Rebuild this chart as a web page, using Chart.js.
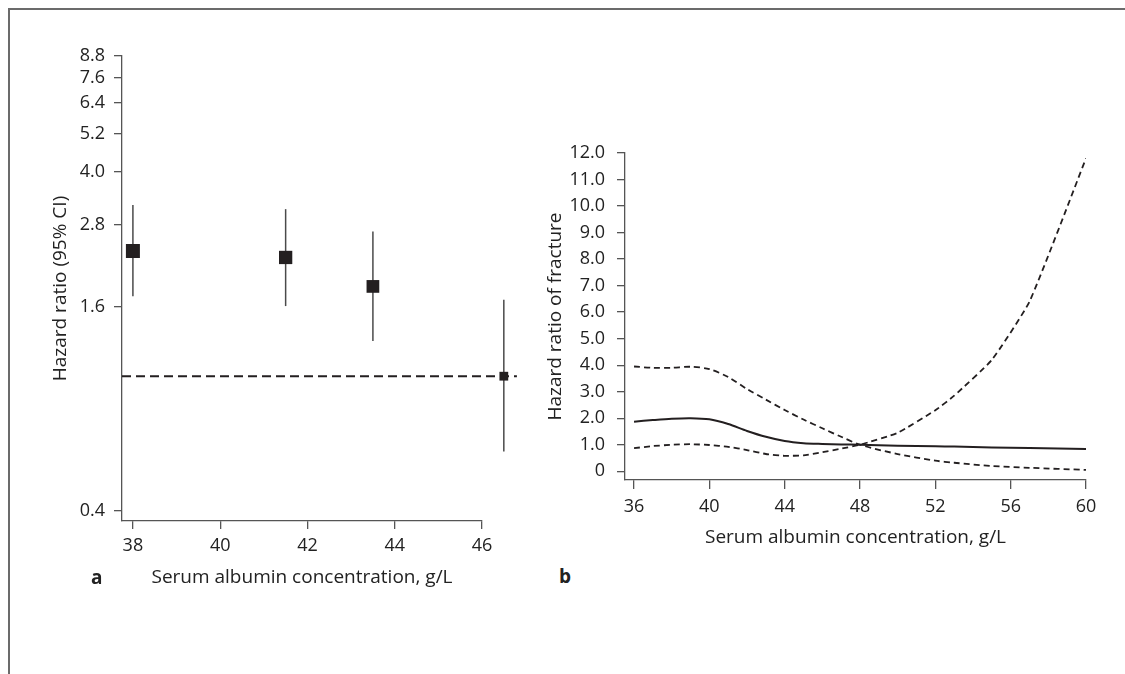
<!DOCTYPE html>
<html>
<head>
<meta charset="utf-8">
<script src="https://cdn.jsdelivr.net/npm/chart.js@4.4.1/dist/chart.umd.min.js"></script>
<style>
  body { margin: 0; background: #fff; width: 1125px; height: 674px; position: relative; overflow: hidden; font-family: "Open Sans", sans-serif; }
  .frame { position: absolute; left: 8px; top: 8px; right: 0; bottom: 0; border-top: 2px solid #6b6b6b; border-left: 2px solid #6b6b6b; }
  .panel { position: absolute; }
  .tag { position: absolute; font-weight: bold; font-size: 19px; color: #222; line-height: 20px; }
</style>
</head>
<body>
<div class="frame"></div>
<div class="panel" style="left:0;top:0;width:530px;height:600px"><canvas id="chartA"></canvas></div>
<div class="panel" style="left:530px;top:0;width:595px;height:560px"><canvas id="chartB"></canvas></div>
<div class="tag" style="left:91px;top:567px">a</div>
<div class="tag" style="left:559px;top:566px">b</div>
<script>
// panel a: categories of serum albumin (g/L) and hazard ratios
const albuminGroups = [38, 41.5, 43.5, 46.5];
const hrGroups = [2.34, 2.24, 1.84, 1.0];
const hrGroupsLow = [1.72, 1.61, 1.27, 0.60];
const hrGroupsHigh = [3.20, 3.11, 2.67, 1.68];
const refLine = 1;
const refLineFrom = 37.75;
const refLineTo = 46.8;
const ticksAx = [38, 40, 42, 44, 46];
const ticksAy = [0.4, 1.6, 2.8, 4.0, 5.2, 6.4, 7.6, 8.8];

// panel b: continuous albumin vs hazard ratio of fracture
const albumin = [36, 37, 38, 39, 40, 41, 42, 43, 44, 45, 46, 47, 48, 50, 52, 53, 55, 57, 60];
const hrFracture = [1.87, 1.93, 1.98, 2.0, 1.96, 1.78, 1.52, 1.3, 1.14, 1.06, 1.03, 1.01, 1.0, 0.96, 0.94, 0.93, 0.9, 0.88, 0.84];
const ciBandA = [3.95, 3.9, 3.9, 3.94, 3.85, 3.55, 3.1, 2.7, 2.31, 1.95, 1.62, 1.3, 1.0, 0.65, 0.4, 0.32, 0.2, 0.13, 0.05];
const ciBandB = [0.87, 0.95, 1.0, 1.02, 0.99, 0.92, 0.8, 0.65, 0.58, 0.6, 0.72, 0.85, 1.0, 1.45, 2.3, 2.85, 4.2, 6.4, 11.8];
const ticksBx = [36, 40, 44, 48, 52, 56, 60];
const ticksBy = [0, 1, 2, 3, 4, 5, 6, 7, 8, 9, 10, 11, 12];

const ink = '#231f20';
const axisCol = '#555';
const textCol = '#222';
const font = { family: 'Open Sans', size: 18 };
const titleFont = { family: 'Open Sans', size: 19 };

const pts = (xs, ys) => xs.map((x, i) => ({ x: x, y: ys[i] }));

// error bars as little two-point lines
const ciSets = albuminGroups.map((x, i) => ({
    data: [{ x: x, y: hrGroupsLow[i] }, { x: x, y: hrGroupsHigh[i] }],
    showLine: true,
    borderColor: '#4a4a4a',
    borderWidth: 1.5,
    pointRadius: 0,
    clip: false
}));

// the last group sits right of the axis end, so let the marks draw a bit past the area
const overhang = {
    id: 'overhang',
    beforeDatasetsDraw(chart) {
        chart._rightEdge = chart.chartArea.right;
        chart.chartArea.right += 45;
    },
    afterDatasetsDraw(chart) {
        chart.chartArea.right = chart._rightEdge;
    }
};

new Chart(document.getElementById('chartA'), {
    type: 'scatter',
    data: {
        datasets: [
            {
                data: pts(albuminGroups, hrGroups),
                pointStyle: 'rect',
                pointRadius: [9.9, 9.4, 9.0, 6.2],
                backgroundColor: ink,
                borderWidth: 0,
                clip: false
            },
            ...ciSets,
            {
                data: [{ x: refLineFrom, y: refLine }, { x: refLineTo, y: refLine }],
                showLine: true,
                borderColor: ink,
                borderWidth: 2,
                borderDash: [9, 5],
                pointRadius: 0,
                clip: false
            }
        ]
    },
    options: {
        responsive: true,
        maintainAspectRatio: false,
        animation: false,
        layout: { padding: { top: 56, right: 48, left: 0, bottom: 0 } },
        plugins: { legend: { display: false }, tooltip: { enabled: false } },
        scales: {
            x: {
                type: 'linear',
                min: 37.75,
                max: 46,
                afterBuildTicks: s => { s.ticks = ticksAx.map(v => ({ value: v })); },
                afterFit: s => { s.height = 79; },
                border: { display: true, color: axisCol, width: 1.3 },
                grid: { drawOnChartArea: false, color: axisCol, tickLength: 8, lineWidth: 1.3 },
                ticks: { color: textCol, font: font, padding: 6, maxRotation: 0 },
                title: { display: true, text: 'Serum albumin concentration, g/L', color: textCol, font: titleFont, padding: { top: 0, bottom: 11 } }
            },
            y: {
                type: 'logarithmic',
                min: 0.374,
                max: 8.8,
                afterBuildTicks: s => { s.ticks = ticksAy.map(v => ({ value: v })); },
                afterFit: s => { s.width = 122; },
                border: { display: true, color: axisCol, width: 1.3 },
                grid: { drawOnChartArea: false, color: axisCol, tickLength: 8, lineWidth: 1.3 },
                ticks: { color: textCol, font: font, padding: 9, callback: v => Number(v).toFixed(1) },
                title: { display: true, text: 'Hazard ratio (95% CI)', color: textCol, font: titleFont, padding: { top: 49, bottom: 0 } }
            }
        }
    },
    plugins: [overhang]
});

new Chart(document.getElementById('chartB'), {
    type: 'scatter',
    data: {
        datasets: [
            {
                data: pts(albumin, hrFracture),
                showLine: true,
                borderColor: ink,
                borderWidth: 2,
                pointRadius: 0,
                tension: 0.3
            },
            {
                data: pts(albumin, ciBandA),
                showLine: true,
                borderColor: ink,
                borderWidth: 1.8,
                borderDash: [6, 4],
                pointRadius: 0,
                tension: 0.3
            },
            {
                data: pts(albumin, ciBandB),
                showLine: true,
                borderColor: ink,
                borderWidth: 1.8,
                borderDash: [6, 4],
                pointRadius: 0,
                tension: 0.15
            }
        ]
    },
    options: {
        responsive: true,
        maintainAspectRatio: false,
        animation: false,
        layout: { padding: { top: 153, right: 39, left: 0, bottom: 0 } },
        plugins: { legend: { display: false }, tooltip: { enabled: false } },
        scales: {
            x: {
                type: 'linear',
                min: 35.52,
                max: 60,
                afterBuildTicks: s => { s.ticks = ticksBx.map(v => ({ value: v })); },
                afterFit: s => { s.height = 80; },
                border: { display: true, color: axisCol, width: 1.3 },
                grid: { drawOnChartArea: false, color: axisCol, tickLength: 9, lineWidth: 1.3 },
                ticks: { color: textCol, font: font, padding: 7, maxRotation: 0 },
                title: { display: true, text: 'Serum albumin concentration, g/L', color: textCol, font: titleFont, padding: { top: 0, bottom: 11 } }
            },
            y: {
                type: 'linear',
                min: -0.33,
                max: 12,
                afterBuildTicks: s => { s.ticks = ticksBy.map(v => ({ value: v })); },
                afterFit: s => { s.width = 95; },
                border: { display: true, color: axisCol, width: 1.3 },
                grid: { drawOnChartArea: false, color: axisCol, tickLength: 8, lineWidth: 1.3 },
                ticks: { color: textCol, font: font, padding: 12, callback: v => v === 0 ? '0' : Number(v).toFixed(1) },
                title: { display: true, text: 'Hazard ratio of fracture', color: textCol, font: titleFont, padding: { top: 14, bottom: 0 } }
            }
        }
    }
});
</script>
</body>
</html>
